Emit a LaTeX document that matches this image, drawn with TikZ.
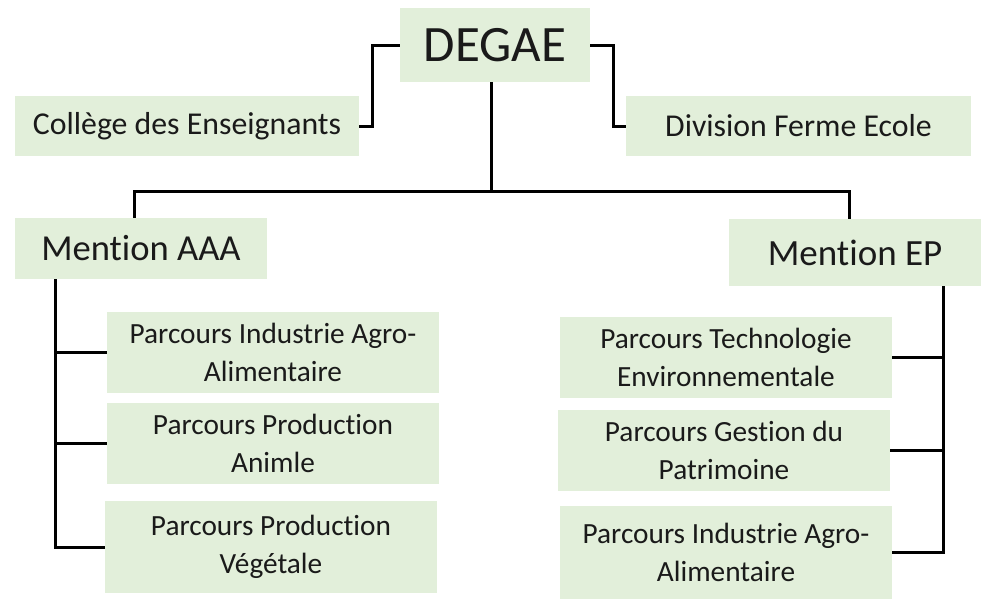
\documentclass[tikz,border=0pt]{standalone}
\usepackage{fontspec}
\setmainfont{Carlito}[Ligatures={NoCommon,NoRare,NoContextual}]
\definecolor{boxgreen}{HTML}{E2EFDA}
\definecolor{txt}{HTML}{1A1A1A}
\begin{document}
\begin{tikzpicture}[x=1pt,y=-1pt,
  gbox/.style={fill=boxgreen,draw=none,text=txt,inner sep=0pt,align=center},
  sub/.style={gbox,minimum width=332pt,minimum height=81pt,font=\fontsize{29.3}{38}\selectfont},
  conn/.style={line width=3pt,black}]
\useasboundingbox (0,0) rectangle (1000,614);
\node[gbox,minimum width=190pt,minimum height=74pt,font=\fontsize{51}{60}\selectfont] (degae) at (495,45) {DEGAE};
\node[gbox,minimum width=344pt,minimum height=60pt,font=\fontsize{31.8}{36}\selectfont] (col) at (187,126) {Collège des Enseignants};
\node[gbox,minimum width=345pt,minimum height=60pt,font=\fontsize{31.8}{36}\selectfont] (div) at (798.5,126) {Division Ferme Ecole};
\node[gbox,minimum width=252pt,minimum height=61pt,font=\fontsize{36.6}{42}\selectfont] (aaa) at (141,248.5) {Mention AAA};
\node[gbox,minimum width=252pt,minimum height=67pt,font=\fontsize{37}{42}\selectfont] (ep) at (855,252.5) {Mention EP};
\node[sub] (l1) at (273,352.5) {Parcours Industrie Agro-\\Alimentaire};
\node[sub] (l2) at (273,443.5) {Parcours Production\\Animle};
\node[sub,minimum height=92pt] (l3) at (271,547) {Parcours Production\\Végétale};
\node[sub] (r1) at (726,357.5) {Parcours Technologie\\Environnementale};
\node[sub] (r2) at (724,450.5) {Parcours Gestion du\\Patrimoine};
\node[sub,minimum height=93pt] (r3) at (726,552.5) {Parcours Industrie Agro-\\Alimentaire};
\coordinate (j) at (491,191);
\coordinate (lb) at (55,547);
\coordinate (rb) at (943,552.5);
\draw[conn] (col.east) -- ++(13,0) |- (degae.west);
\draw[conn] (degae.east) -- ++(23,0) |- (div.west);
\draw[conn] (degae.south -| j) -- (j);
\draw[conn] ([xshift=-7pt]aaa.north) |- (j) -| ([xshift=-6pt]ep.north);
\draw[conn] (aaa.south -| lb) -- (lb) -- (l3.west);
\draw[conn] (l1.west) -- (l1.west -| lb);
\draw[conn] (l2.west) -- (l2.west -| lb);
\draw[conn] (ep.south -| rb) -- (rb) -- (r3.east);
\draw[conn] (r1.east) -- (r1.east -| rb);
\draw[conn] (r2.east) -- (r2.east -| rb);
\end{tikzpicture}
\end{document}
